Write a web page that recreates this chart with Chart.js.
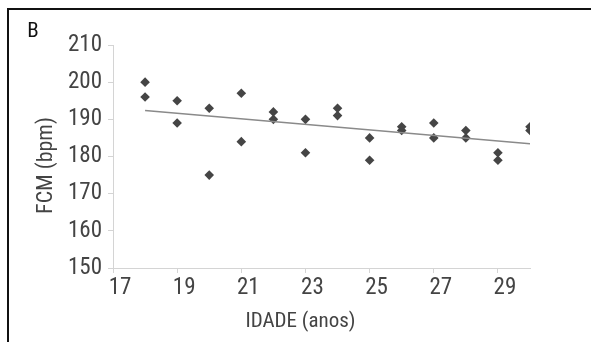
<!DOCTYPE html>
<html>
<head>
<meta charset="utf-8">
<script src="https://cdn.jsdelivr.net/npm/chart.js@4.4.0/dist/chart.umd.min.js"></script>
<style>
    html, body { margin: 0; padding: 0; background: #fff; overflow: hidden; }
    #wrap { position: relative; width: 591px; height: 342px; }
    #frame {
        position: absolute; left: 7px; top: 8px; width: 600px; height: 400px;
        border-top: 2px solid #111; border-left: 2px solid #111;
    }
    #chart { position: absolute; left: 0; top: 0; }
</style>
</head>
<body>
<div id="wrap">
    <div id="frame"></div>
    <canvas id="chart" width="591" height="342"></canvas>
</div>
<script>
// Data: two subjects per age
const ages = [18, 19, 20, 21, 22, 23, 24, 25, 26, 27, 28, 29, 30];
const fcmHigh = [200, 195, 193, 197, 192, 190, 193, 185, 188, 189, 187, 181, 188];
const fcmLow = [196, 189, 175, 184, 190, 181, 191, 179, 187, 185, 185, 179, 187];
const xTicks = [17, 19, 21, 23, 25, 27, 29];
const yTicks = [150, 160, 170, 180, 190, 200, 210];

const FONT = "'Liberation Sans Narrow', 'Roboto Condensed', 'Open Sans', sans-serif";
const TEXT = '#444';

// Scatter points
const points = [];
ages.forEach((a, i) => {
    points.push({ x: a, y: fcmHigh[i] });
    points.push({ x: a, y: fcmLow[i] });
});

// Linear trend line (least squares over the points)
function trendLine(pts) {
    const n = pts.length;
    const mx = pts.reduce((s, p) => s + p.x, 0) / n;
    const my = pts.reduce((s, p) => s + p.y, 0) / n;
    let num = 0, den = 0;
    pts.forEach(p => { num += (p.x - mx) * (p.y - my); den += (p.x - mx) ** 2; });
    const b = num / den;
    const x0 = ages[0], x1 = ages[ages.length - 1];
    return [{ x: x0, y: my + b * (x0 - mx) }, { x: x1, y: my + b * (x1 - mx) }];
}

// Panel letter and axis titles (placed like the original, a bit off-centre)
const labels = {
    id: 'labels',
    afterDraw(chart) {
        const { ctx, chartArea } = chart;
        ctx.save();
        ctx.textAlign = 'center';
        ctx.textBaseline = 'middle';

        ctx.font = `21px ${FONT}`;
        ctx.fillStyle = '#111';
        ctx.fillText('B', 33, 32);

        ctx.font = `21px ${FONT}`;
        ctx.fillStyle = TEXT;
        ctx.fillText('IDADE (anos)', (chartArea.left + chartArea.right) / 2 - 21, 322);

        ctx.font = `22px ${FONT}`;
        ctx.translate(46, (chartArea.top + chartArea.bottom) / 2 + 9);
        ctx.rotate(-Math.PI / 2);
        ctx.fillText('FCM (bpm)', 0, 0);
        ctx.restore();
    }
};

new Chart(document.getElementById('chart'), {
    type: 'scatter',
    data: {
        datasets: [
            {
                type: 'line',
                data: trendLine(points),
                borderColor: '#8a8a8a',
                borderWidth: 1.5,
                pointRadius: 0,
                fill: false
            },
            {
                data: points,
                pointStyle: 'rectRot',
                pointRadius: 4.8,
                backgroundColor: '#454545',
                borderColor: '#454545',
                borderWidth: 0
            }
        ]
    },
    options: {
        responsive: false,
        animation: false,
        layout: { padding: { left: 0, top: 45, right: 61, bottom: 0 } },
        plugins: { legend: { display: false }, tooltip: { enabled: false } },
        scales: {
            x: {
                type: 'linear',
                min: 17,
                max: 30,
                afterBuildTicks: s => { s.ticks = xTicks.map(v => ({ value: v })); },
                afterFit: s => { s.height = 74; },
                grid: { drawOnChartArea: false, tickLength: 5, color: '#d4d4d4' },
                border: { color: '#d4d4d4', width: 1 },
                ticks: {
                    font: { family: FONT, size: 23 },
                    color: TEXT,
                    padding: 1,
                    labelOffset: 7,
                    maxRotation: 0
                }
            },
            y: {
                min: 150,
                max: 210,
                afterBuildTicks: s => { s.ticks = yTicks.map(v => ({ value: v })); },
                afterFit: s => { s.width = 113; },
                grid: { drawOnChartArea: false, tickLength: 5, color: '#d4d4d4' },
                border: { color: '#d4d4d4', width: 1 },
                ticks: {
                    font: { family: FONT, size: 23 },
                    color: TEXT,
                    padding: 6
                }
            }
        }
    },
    plugins: [labels]
});
</script>
</body>
</html>
